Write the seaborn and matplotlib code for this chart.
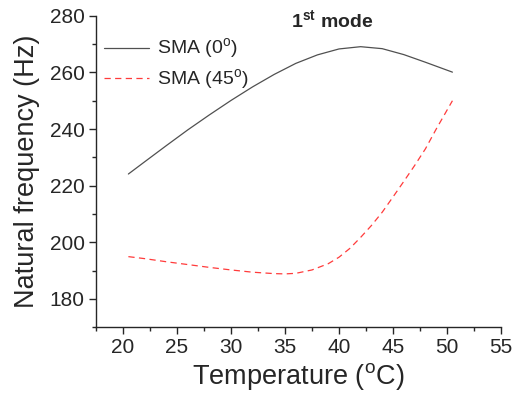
import numpy as np
import pandas as pd
import matplotlib
matplotlib.use("Agg")
import matplotlib.pyplot as plt
import seaborn as sns
from matplotlib.ticker import MultipleLocator

# -------------------- data --------------------
temp_sma0 = [20.5, 22, 24, 26, 28, 30, 32, 34, 36, 38, 40, 42, 44, 46, 48, 50.5]
freq_sma0 = [224.1, 228.4, 234.1, 239.7, 245.0, 250.1, 254.9, 259.3, 263.2, 266.2,
             268.3, 269.1, 268.4, 266.3, 263.6, 260.1]
temp_sma45 = [20.5, 22, 24, 26, 28, 30, 32, 34, 35, 36, 37.5, 39, 40, 41, 42, 43,
              44, 45, 46, 47, 48, 49, 50.5]
freq_sma45 = [194.9, 194.2, 193.1, 192.1, 191.1, 190.2, 189.4, 188.9, 188.8, 189.0,
              190.2, 192.4, 194.7, 197.8, 201.7, 205.9, 210.6, 216.0, 221.5, 227.1,
              233.0, 240.0, 250.0]
labels = ["SMA (0$^\\mathregular{o}$)", "SMA (45$^\\mathregular{o}$)"]

df = pd.concat([
    pd.DataFrame({"T": temp_sma0, "f": freq_sma0, "series": labels[0]}),
    pd.DataFrame({"T": temp_sma45, "f": freq_sma45, "series": labels[1]}),
])

sns.set_style("ticks")
plt.rcParams["font.family"] = ["Liberation Sans", "DejaVu Sans"]
plt.rcParams["mathtext.fontset"] = "custom"
plt.rcParams["mathtext.rm"] = "Liberation Sans"
plt.rcParams["mathtext.bf"] = "Liberation Sans:bold"

fig = plt.figure(figsize=(5.16, 3.96), dpi=100)
ax = fig.add_axes([0.186, 0.174, 0.785, 0.786])

sns.lineplot(data=df, x="T", y="f", hue="series", style="series",
             palette=["#505050", "#ff3b3b"], dashes=[(None, None), (5, 3.5)],
             linewidth=0.9, ax=ax, sort=False)

ax.set_xlim(17.5, 55)
ax.set_ylim(170, 280)
ax.set_xticks([20, 25, 30, 35, 40, 45, 50, 55])
ax.set_yticks([180, 200, 220, 240, 260, 280])
ax.xaxis.set_minor_locator(MultipleLocator(2.5))
ax.yaxis.set_minor_locator(MultipleLocator(10))
ax.tick_params(which="major", direction="out", length=5, width=1, labelsize=15, pad=3)
ax.tick_params(which="minor", direction="out", length=3, width=1)
for s in ["left", "bottom"]:
    ax.spines[s].set_linewidth(1)
sns.despine(ax=ax)

ax.set_xlabel("Temperature ($^\\mathregular{o}$C)", fontsize=19.5, labelpad=3)
ax.set_ylabel("Natural frequency (Hz)", fontsize=19.5, labelpad=7)

ax.text(0.583, 0.984, "1$^\\mathbf{st}$ mode", transform=ax.transAxes, ha="center",
        va="center", fontsize=14, fontweight="bold")

leg = ax.legend(loc="upper left", frameon=False, fontsize=14, handlelength=2.35,
                bbox_to_anchor=(0.0, 0.958), borderaxespad=0, labelspacing=0.3,
                handletextpad=0.4)

fig.savefig("out.png", dpi=100)
